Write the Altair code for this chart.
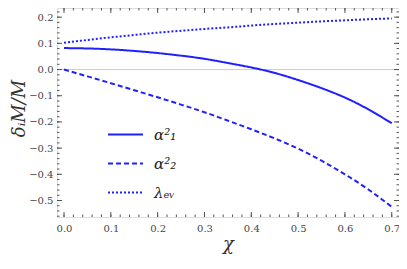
import altair as alt
import pandas as pd
import numpy as np

# ---- data ----
chi = [0.0, 0.05, 0.1, 0.15, 0.2, 0.25, 0.3, 0.35, 0.4, 0.45, 0.5, 0.55, 0.6, 0.65, 0.7]
alpha1 = [0.082, 0.0805, 0.077, 0.071, 0.063, 0.053, 0.041, 0.025, 0.008, -0.013,
          -0.040, -0.071, -0.107, -0.152, -0.205]
alpha2 = [0.0, -0.026, -0.052, -0.079, -0.106, -0.134, -0.163, -0.195, -0.228, -0.263,
          -0.302, -0.348, -0.400, -0.458, -0.524]
lam = [0.102, 0.113, 0.123, 0.132, 0.141, 0.148, 0.155, 0.161, 0.168, 0.174,
       0.179, 0.184, 0.188, 0.192, 0.195]
series_names = ["α²₁", "α²₂", "λₑᵥ"]

x_major = [0.0, 0.1, 0.2, 0.3, 0.4, 0.5, 0.6, 0.7]
y_major = [-0.5, -0.4, -0.3, -0.2, -0.1, 0.0, 0.1, 0.2]
x_minor = [round(v, 2) for v in np.arange(0.0, 0.72, 0.02)]
y_minor = [round(v, 2) for v in np.arange(-0.56, 0.24, 0.02)]

W, H = 342, 209
FONT = "'DejaVu Serif', 'Liberation Serif', serif"
BLUE = "#2020ff"
FRAME = "#555555"

rows = []
for name, vals in zip(series_names, [alpha1, alpha2, lam]):
    for c, v in zip(chi, vals):
        rows.append({"chi": c, "val": v, "series": name})
df = pd.DataFrame(rows)

xscale = alt.Scale(domain=[-0.015, 0.7155], nice=False, zero=False)
yscale = alt.Scale(domain=[-0.563, 0.235], nice=False, zero=False)

x_axis = alt.Axis(
    values=x_major, format=".1f", ticks=False, domain=False, grid=False,
    labelFont=FONT, labelFontSize=10, labelColor="#444444", labelPadding=6,
    title="χ", titleFont=FONT, titleFontSize=18, titleFontStyle="italic",
    titleFontWeight="normal", titleColor="#333333", titlePadding=2)
y_axis = alt.Axis(
    values=y_major, format=".1f", ticks=False, domain=False, grid=False,
    labelFont=FONT, labelFontSize=10, labelColor="#444444", labelPadding=4,
    title="δᵢM/M", titleFont=FONT, titleFontSize=18, titleFontStyle="italic",
    titleFontWeight="normal", titleColor="#333333", titleX=-38, titleY=100,
    titleAngle=-90, titleAlign="center", titleBaseline="middle")

lines = alt.Chart(df).mark_line(strokeWidth=2, color=BLUE, interpolate="natural").encode(
    x=alt.X("chi:Q", scale=xscale, axis=x_axis, title="χ"),
    y=alt.Y("val:Q", scale=yscale, axis=y_axis, title="δᵢM/M"),
    strokeDash=alt.StrokeDash("series:N", scale=alt.Scale(
        domain=series_names, range=[[1, 0], [5, 3], [2, 2]]),
        sort=series_names,
        legend=alt.Legend(title=None, orient="none", legendX=50, legendY=108,
                          symbolType="stroke", symbolSize=1225, symbolStrokeWidth=2,
                          symbolStrokeColor=BLUE, labelFont=FONT, labelFontSize=15,
                          labelFontStyle="italic", labelColor="#222222",
                          labelOffset=10, rowPadding=2)),
)

zero = alt.Chart(pd.DataFrame({"y": [0.0]})).mark_rule(color="#cccccc", strokeWidth=1).encode(
    y=alt.Y("y:Q", scale=yscale, axis=y_axis, title="δᵢM/M")
)

def ticks_y(values, x0, x1):
    return alt.Chart(pd.DataFrame({"v": values})).mark_rule(color=FRAME, strokeWidth=1).encode(
        y=alt.Y("v:Q", scale=yscale, axis=y_axis, title="δᵢM/M"),
        x=alt.value(x0), x2=alt.value(x1))

def ticks_x(values, y0, y1):
    return alt.Chart(pd.DataFrame({"v": values})).mark_rule(color=FRAME, strokeWidth=1).encode(
        x=alt.X("v:Q", scale=xscale, axis=x_axis, title="χ"),
        y=alt.value(y0), y2=alt.value(y1))

tick_layers = [
    ticks_y(y_major, 0, 5), ticks_y(y_minor, 0, 2.5),
    ticks_y(y_major, W - 5, W), ticks_y(y_minor, W - 2.5, W),
    ticks_x(x_major, H, H - 5), ticks_x(x_minor, H, H - 2.5),
    ticks_x(x_major, 0, 5), ticks_x(x_minor, 0, 2.5),
]

chart = alt.layer(zero, lines, *tick_layers).properties(
    width=W, height=H,
    autosize=alt.AutoSizeParams(type="none"),
    padding={"left": 49, "top": 0, "right": 0, "bottom": 44},
).configure_view(
    stroke=FRAME, strokeWidth=1
).configure_axis(
    labelFont=FONT, titleFont=FONT
).configure_legend(
    labelFont=FONT
).configure(background="white", font=FONT)

chart.save("out.html", embed_options={"renderer": "svg", "actions": False})
